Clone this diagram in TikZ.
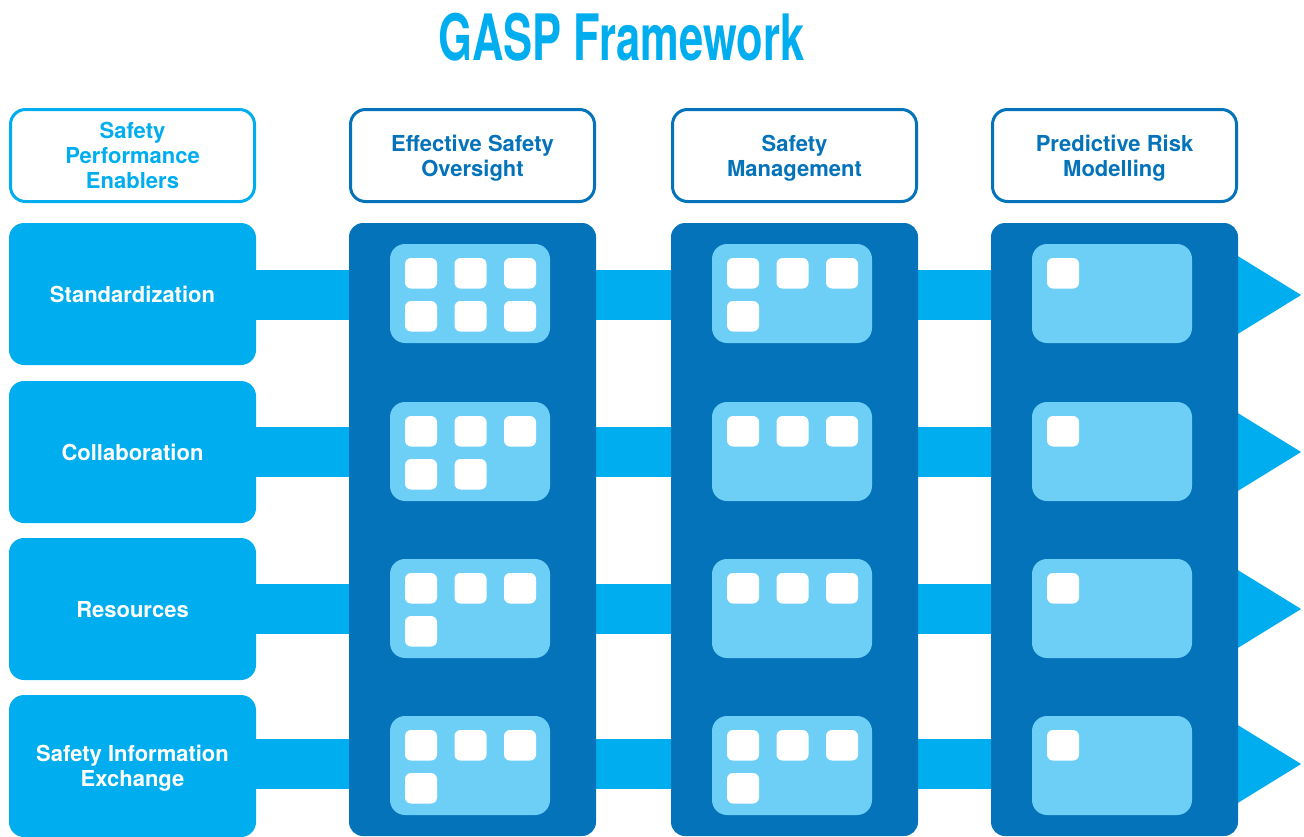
\documentclass[tikz,border=0pt]{standalone}
\usepackage{fontspec}
\usepackage{graphicx}
\setmainfont{TeX Gyre Heros}
\usetikzlibrary{arrows.meta}
\definecolor{cyanb}{HTML}{00AEEF}
\definecolor{darkb}{HTML}{0573BA}
\definecolor{paleb}{HTML}{6DCFF6}
\tikzset{
  hdr/.style={draw=darkb, line width=3pt, fill=white, rounded corners=15pt,
    minimum width=244pt, minimum height=92pt, inner sep=0pt, align=center,
    text depth=0pt, text=darkb, font=\bfseries\fontsize{22}{25}\selectfont},
  hdrlight/.style={hdr, draw=cyanb, text=cyanb},
  rowbox/.style={fill=cyanb, rounded corners=15pt, minimum width=247pt,
    minimum height=142pt, inner sep=0pt, align=center, text=white,
    text depth=0pt, font=\bfseries\fontsize{22}{25}\selectfont},
  colbox/.style={fill=darkb, rounded corners=14pt, minimum width=247pt,
    minimum height=613pt, inner sep=0pt},
  cell/.style={fill=paleb, rounded corners=15pt, minimum width=160pt,
    minimum height=99pt, inner sep=0pt},
  sq/.style={fill=white, rounded corners=6pt, minimum width=32pt,
    minimum height=30.5pt, inner sep=0pt},
  band/.style={cyanb, line width=50pt, -{Triangle[length=65pt,width=74pt]}}
}
\begin{document}
\begin{tikzpicture}[x=1pt,y=-1pt]
\useasboundingbox (0,0) rectangle (1304,836);
% title
\node[anchor=base, text=cyanb, inner sep=0pt] (title) at (621.5,60)
  {\scalebox{0.68}[1]{\fontsize{64}{64}\selectfont\bfseries GASP Framework}};
% headers
\node[hdrlight] (h0) at (132.5,155.5) {Safety\\Performance\\Enablers};
\node[hdr] (h1) at (472.5,155.5) {Effective Safety\\Oversight};
\node[hdr] (h2) at (794.5,155.5) {Safety\\Management};
\node[hdr] (h3) at (1114.5,155.5) {Predictive Risk\\Modelling};
% row boxes
\node[rowbox] (r1) at (132.5,294) {Standardization};
\node[rowbox] (r2) at (132.5,452) {Collaboration};
\node[rowbox] (r3) at (132.5,609) {Resources};
\node[rowbox] (r4) at (132.5,766) {Safety Information\\Exchange};
% arrow tips
\coordinate (t1) at (1302,295);
\coordinate (t2) at (1302,452);
\coordinate (t3) at (1302,609);
\coordinate (t4) at (1302,764);
\draw[band] (r1.east |- t1) -- (t1);
\draw[band] (r2.east |- t2) -- (t2);
\draw[band] (r3.east |- t3) -- (t3);
\draw[band] (r4.east |- t4) -- (t4);
% columns with cells
\foreach \L/\ca/\cb/\cc/\cd [count=\j] in {349/6/5/4/4, 671/4/3/3/4, 991/1/1/1/1} {
  \node[colbox] (col\j) at (\L+123.5,529.5) {};
  \foreach \t/\n in {223/\ca, 381/\cb, 538/\cc, 695/\cd} {
    \node[cell] (cell-\j-\t) at (\L+121,\t+70.5) {};
    \foreach \k in {1,...,\n} {
      \pgfmathtruncatemacro\sc{mod(\k-1,3)}
      \pgfmathtruncatemacro\sr{(\k-1)/3}
      \node[sq] (sq-\j-\t-\k) at (\L+72+49.5*\sc,\t+50.25+43*\sr) {};
    }
  }
}
\end{tikzpicture}
\end{document}
